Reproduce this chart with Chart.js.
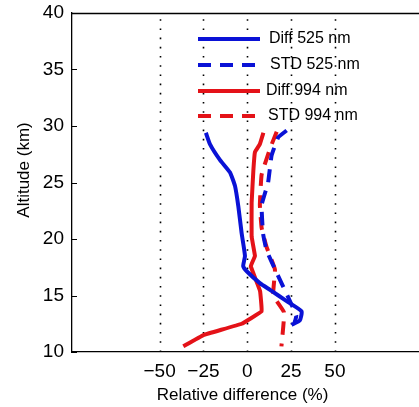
<!DOCTYPE html>
<html><head><meta charset="utf-8">
<script src="https://cdn.jsdelivr.net/npm/chart.js@4/dist/chart.umd.min.js"></script>
<style>html,body{margin:0;padding:0;background:#fff;overflow:hidden}#wrap{width:419px;height:407px;position:relative}</style>
</head><body><div id="wrap"><canvas id="c" width="419" height="407"></canvas></div>
<script>
// Data (altitude km, relative difference %)
const diff525Alt = [29.4, 28.4, 27.0, 25.9, 24.7, 22.9, 20.5, 18.5, 17.6, 17.1, 16.1, 15.5, 14.5, 13.6, 12.8, 12.4];
const diff525Val = [-23.6, -21.3, -15.6, -9.9, -7.0, -5.1, -3.2, -1.3, -2.3, 0.0, 7.2, 13.0, 22.5, 31.0, 30.0, 25.3];
const std525Alt = [29.6, 29.0, 27.4, 25.0, 23.0, 20.5, 19.0, 17.0, 14.8, 13.2, 12.6];
const std525Val = [22.5, 17.7, 13.9, 11.9, 8.2, 9.0, 11.0, 16.8, 23.5, 28.0, 27.0];
const diff994Alt = [29.4, 28.4, 27.7, 26.1, 23.2, 20.2, 18.5, 17.6, 15.4, 13.6, 12.5, 11.5, 10.5];
const diff994Val = [9.2, 7.2, 4.4, 3.5, 2.5, 2.5, 4.4, 2.0, 7.3, 8.2, -3.2, -25.0, -36.5];
const std994Alt = [29.5, 28.0, 25.7, 23.0, 21.0, 19.3, 17.3, 15.0, 13.5, 10.5];
const std994Val = [16.8, 13.0, 8.2, 7.2, 8.2, 11.0, 15.8, 14.8, 21.0, 19.5];
const xTicks = [-50, -25, 0, 25, 50];
const yTicks = [10, 15, 20, 25, 30, 35, 40];
const seriesLabels = ['Diff 525 nm', 'STD 525 nm', 'Diff 994 nm', 'STD 994 nm'];

const BLUE = 'rgb(10,18,214)';
const RED = 'rgb(228,18,24)';
const FONT = '"Liberation Sans", Arial, Helvetica, sans-serif';
const pts = (a, v) => a.map((y, i) => ({x: v[i], y: y}));

const decor = {
  id: 'decor',
  beforeDatasetsDraw(chart) {
    const {ctx, chartArea: ca, scales: {x, y}} = chart;
    ctx.save();
    ctx.strokeStyle = '#000';
    ctx.lineWidth = 1.6;
    ctx.setLineDash([1.6, 7.6]);
    xTicks.forEach(v => {
      const px = Math.round(x.getPixelForValue(v)) + 0.5;
      ctx.beginPath(); ctx.moveTo(px, ca.bottom); ctx.lineTo(px, ca.top); ctx.stroke();
    });
    ctx.setLineDash([]);
    ctx.lineWidth = 1;
    yTicks.forEach(v => {
      const py = Math.round(y.getPixelForValue(v)) + 0.5;
      ctx.beginPath(); ctx.moveTo(ca.left, py); ctx.lineTo(ca.left + 5, py); ctx.stroke();
    });
    ctx.lineWidth = 1.3;
    ctx.beginPath(); ctx.moveTo(ca.left, ca.top + 0.5); ctx.lineTo(ca.right, ca.top + 0.5); ctx.stroke();
    ctx.restore();
  },
  afterDatasetsDraw(chart) {
    const {ctx} = chart;
    ctx.save();
    ctx.fillStyle = '#000';
    ctx.font = '17px ' + FONT;
    ctx.textAlign = 'center';
    ctx.textBaseline = 'middle';
    ctx.fillText('Relative difference (%)', 242.5, 395);
    ctx.save();
    ctx.translate(24, 170);
    ctx.rotate(-Math.PI / 2);
    ctx.fillText('Altitude (km)', 0, 0);
    ctx.restore();
    const rows = [
      {y: 39, tx: 269},
      {y: 65, tx: 270},
      {y: 91, tx: 266},
      {y: 116, tx: 268}
    ];
    chart.data.datasets.forEach((ds, i) => {
      const r = rows[i];
      ctx.strokeStyle = ds.borderColor;
      ctx.lineWidth = 4;
      ctx.lineCap = 'butt';
      ctx.setLineDash(ds.borderDash || []);
      ctx.beginPath(); ctx.moveTo(198, r.y); ctx.lineTo(260, r.y); ctx.stroke();
      ctx.setLineDash([]);
      ctx.fillStyle = '#000';
      ctx.textAlign = 'left';
      ctx.font = '16px ' + FONT;
      ctx.fillText(ds.label, r.tx, r.y);
    });
    ctx.restore();
  }
};

new Chart(document.getElementById('c'), {
  type: 'scatter',
  data: {
    datasets: [
      {label: seriesLabels[0], data: pts(diff525Alt, diff525Val), borderColor: BLUE, borderWidth: 4, showLine: true, pointRadius: 0, tension: 0.15},
      {label: seriesLabels[1], data: pts(std525Alt, std525Val), borderColor: BLUE, borderWidth: 4, borderDash: [13, 9], showLine: true, pointRadius: 0, tension: 0.1},
      {label: seriesLabels[2], data: pts(diff994Alt, diff994Val), borderColor: RED, borderWidth: 4, showLine: true, pointRadius: 0, tension: 0.05},
      {label: seriesLabels[3], data: pts(std994Alt, std994Val), borderColor: RED, borderWidth: 4, borderDash: [13, 9], showLine: true, pointRadius: 0, tension: 0.1}
    ]
  },
  options: {
    responsive: false,
    animation: false,
    events: [],
    layout: {padding: {left: 0, top: 13, right: 0, bottom: 0}},
    plugins: {legend: {display: false}, tooltip: {enabled: false}},
    scales: {
      x: {
        type: 'linear', min: -100, max: 98,
        afterBuildTicks: s => { s.ticks = xTicks.map(v => ({value: v})); },
        afterFit: s => { s.height = 55; s.paddingLeft = 0; s.paddingRight = 0; },
        grid: {display: false, drawTicks: false},
        border: {display: true, color: '#000', width: 1.3},
        ticks: {color: '#000', padding: 8, autoSkip: false, font: {family: FONT, size: 19}, maxRotation: 0,
          callback: v => (v < 0 ? '\u2212' + Math.abs(v) : String(v))}
      },
      y: {
        type: 'linear', min: 10, max: 40,
        afterBuildTicks: s => { s.ticks = yTicks.map(v => ({value: v})); },
        afterFit: s => { s.width = 72; s.paddingTop = 0; s.paddingBottom = 0; },
        grid: {display: false, drawTicks: false},
        border: {display: true, color: '#000', width: 1.3},
        ticks: {color: '#000', padding: 8, autoSkip: false, font: {family: FONT, size: 19}}
      }
    }
  },
  plugins: [decor]
});
</script></body></html>
